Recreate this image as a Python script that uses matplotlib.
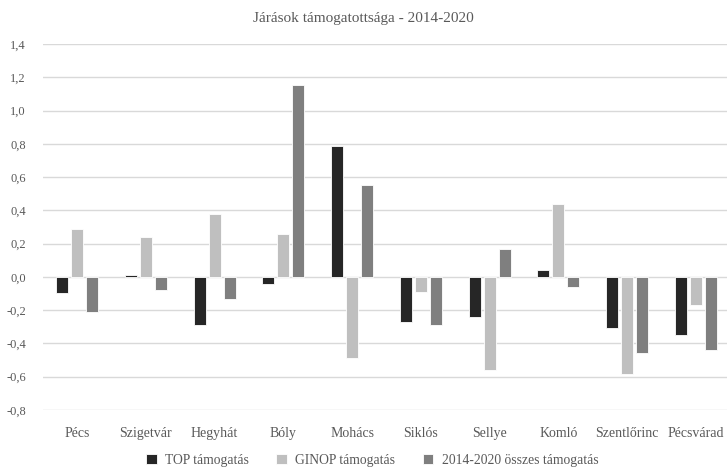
import matplotlib
matplotlib.use('Agg')
import matplotlib.pyplot as plt
import numpy as np
from matplotlib.ticker import FuncFormatter

plt.rcParams['font.family'] = ['Liberation Serif', 'DejaVu Serif']

districts = ['Pécs', 'Szigetvár', 'Hegyhát', 'Bóly', 'Mohács',
             'Siklós', 'Sellye', 'Komló', 'Szentlőrinc', 'Pécsvárad']
top = [-0.094, 0.013, -0.29, -0.044, 0.787, -0.27, -0.24, 0.042, -0.305, -0.35]
ginop = [0.287, 0.24, 0.38, 0.26, -0.485, -0.092, -0.557, 0.437, -0.581, -0.168]
total = [-0.21, -0.08, -0.13, 1.154, 0.551, -0.287, 0.17, -0.058, -0.455, -0.437]

series = [
    ('TOP támogatás', top, '#262626'),
    ('GINOP támogatás', ginop, '#bfbfbf'),
    ('2014-2020 összes támogatás', total, '#7f7f7f'),
]

fig = plt.figure(figsize=(7.27, 4.69), dpi=100)
ax = fig.add_axes([0.0586, 0.1258, 0.946, 0.7804])

x = np.arange(len(districts))
step = 0.218
width = 0.174
for i, (name, vals, color) in enumerate(series):
    ax.bar(x + (i - 1) * step, vals, width, color=color, label=name,
           edgecolor='white', linewidth=0.6, zorder=3)

ax.set_xlim(-0.5, 9.5)
ax.set_ylim(-0.8, 1.4)
ax.set_yticks(np.arange(-0.8, 1.41, 0.2))
ax.yaxis.set_major_formatter(FuncFormatter(lambda v, p: f'{v:.1f}'.replace('.', ',').replace('-0,0', '0,0')))
ax.grid(axis='y', color='#d9d9d9', linewidth=1, zorder=0)
for s in ax.spines.values():
    s.set_visible(False)
ax.tick_params(axis='both', length=0, colors='#595959', labelsize=9)
ax.tick_params(axis='y', pad=12)
ax.set_xticks(x)
ax.set_xticklabels(districts, fontsize=10)
ax.tick_params(axis='x', pad=12)

fig.suptitle('Járások támogatottsága - 2014-2020', y=0.975, fontsize=11, color='#595959')

fig.legend(loc='center', bbox_to_anchor=(0.512, 1 - 460 / 469), ncol=3, frameon=False,
           fontsize=9.8, labelcolor='#595959', handlelength=0.8, handleheight=0.8,
           columnspacing=2.0, handletextpad=0.6)

fig.savefig('out.png', dpi=100)
